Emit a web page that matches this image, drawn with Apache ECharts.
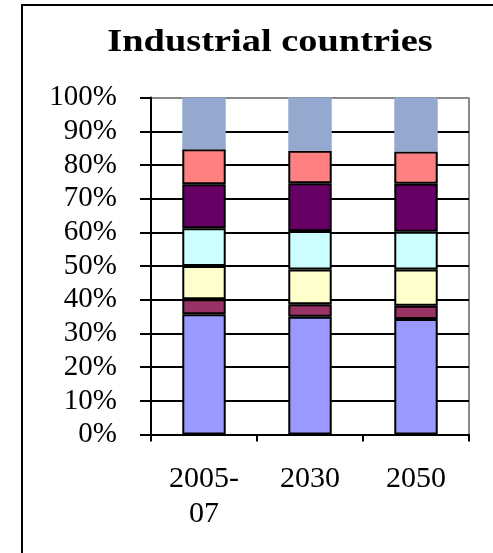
<!DOCTYPE html>
<html>
<head>
<meta charset="utf-8">
<script src="https://cdn.jsdelivr.net/npm/echarts@6/dist/echarts.min.js"></script>
<style>
  html, body { margin: 0; padding: 0; background: #fff; }
  #chart { width: 493px; height: 553px; }
</style>
</head>
<body>
<div id="chart"></div>
<script>
var categories = ['2005-07', '2030', '2050'];
var yTicks = ['0%', '10%', '20%', '30%', '40%', '50%', '60%', '70%', '80%', '90%', '100%'];

// shares per segment, bottom to top
var seg1 = [35.7, 35.0, 34.3];
var seg2 = [4.5, 3.7, 3.9];
var seg3 = [9.8, 10.3, 10.8];
var seg4 = [11.2, 11.4, 11.2];
var seg5 = [13.1, 14.2, 14.2];
var seg6 = [10.4, 9.6, 9.6];
var seg7 = [15.3, 15.8, 16.0];

var segColors = ['#9999ff', '#993366', '#ffffcc', '#ccffff', '#660066', '#ff8080', '#95a9d0'];
var segData = [seg1, seg2, seg3, seg4, seg5, seg6, seg7];

var chart = echarts.init(document.getElementById('chart'));

var series = segData.map(function (d, i) {
    var last = i === segData.length - 1;
    return {
        type: 'bar',
        stack: 'all',
        barWidth: '41%',
        data: d,
        itemStyle: {
            color: segColors[i],
            borderColor: last ? segColors[i] : '#000',
            borderWidth: last ? 0 : 2
        }
    };
});

// gridline colours: all black, top one grey like the plot frame
var gridColors = yTicks.map(function (t, i) { return i === yTicks.length - 1 ? '#888' : '#000'; });

option = {
    animation: false,
    backgroundColor: '#fff',
    graphic: [{
        type: 'rect',
        shape: { x: 22, y: 5, width: 600, height: 600 },
        style: { fill: 'none', stroke: '#000', lineWidth: 2 },
        silent: true
    }, {
        type: 'line',
        shape: { x1: 469, y1: 97.6, x2: 469, y2: 434.6 },
        style: { stroke: '#888', lineWidth: 2 },
        silent: true
    }, {
        // chart title, a little stretched like the original
        type: 'text',
        x: 270,
        y: 43,
        scaleX: 1.2,
        style: {
            text: 'Industrial countries',
            font: 'bold 32px "Liberation Serif"',
            fill: '#000',
            textAlign: 'center',
            textVerticalAlign: 'middle'
        },
        silent: true
    }],
    grid: {
        left: 151,
        right: 24,
        top: 97.6,
        bottom: 118.4
    },
    xAxis: {
        type: 'category',
        data: categories,
        axisLine: { lineStyle: { color: '#000', width: 2 } },
        axisTick: { show: true, length: 7, lineStyle: { color: '#000', width: 2 } },
        axisLabel: {
            margin: 27,
            fontFamily: 'Liberation Serif',
            fontSize: 30,
            lineHeight: 35,
            color: '#000',
            formatter: function (v) { return v.replace('-', '-\n'); }
        }
    },
    yAxis: {
        type: 'value',
        min: 0,
        max: 100,
        interval: 10,
        axisLine: { show: true, lineStyle: { color: '#000', width: 2 } },
        axisTick: { show: true, length: 11, lineStyle: { color: '#000', width: 2 } },
        splitLine: { show: true, lineStyle: { color: gridColors, width: 2 } },
        axisLabel: {
            margin: 34,
            fontFamily: 'Liberation Serif',
            fontSize: 29,
            color: '#000',
            formatter: function (v) { return yTicks[Math.round(v / 10)]; }
        }
    },
    series: series
};

chart.setOption(option);
</script>
</body>
</html>
